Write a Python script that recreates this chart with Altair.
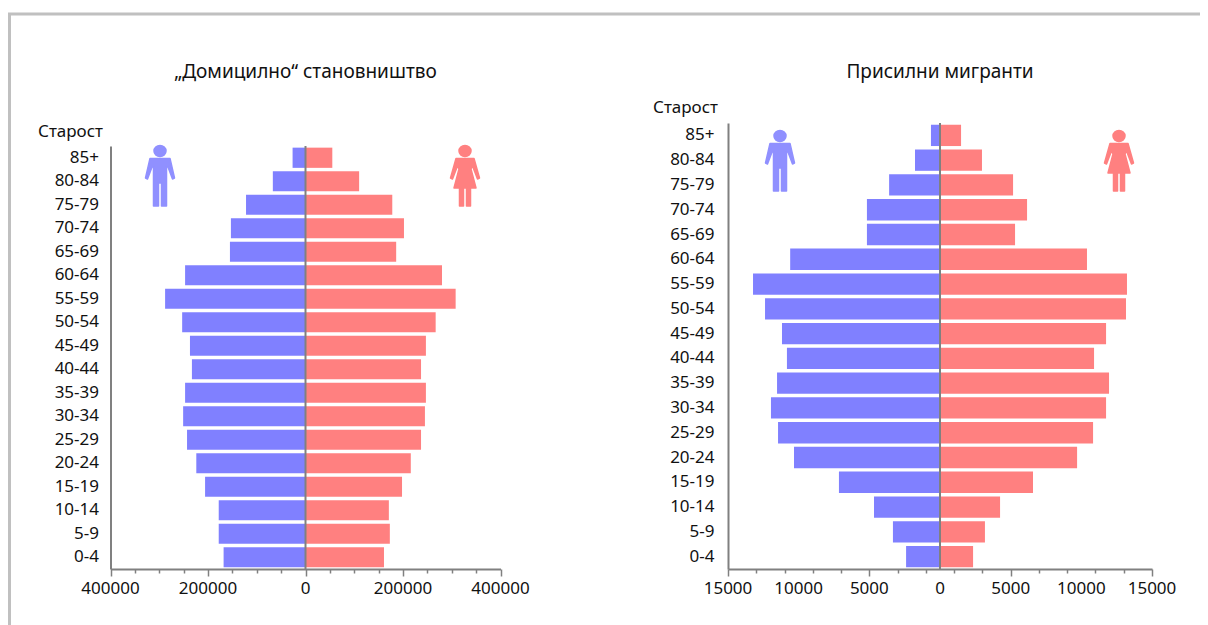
import altair as alt
import pandas as pd

ages = ["85+","80-84","75-79","70-74","65-69","60-64","55-59","50-54","45-49","40-44","35-39","30-34","25-29","20-24","15-19","10-14","5-9","0-4"]
dom_m = [26500,67000,122000,153000,155000,247000,288000,253000,237000,233000,247000,251000,243000,224000,206000,178000,178000,168000]
dom_f = [55000,110000,178000,202000,186000,280000,308000,267000,247000,237000,247000,245000,237000,216000,198000,171000,173000,161000]
mig_m = [640,1770,3600,5170,5170,10600,13230,12380,11180,10830,11530,11960,11460,10330,7150,4670,3330,2400]
mig_f = [1490,2970,5170,6160,5310,10400,13230,13160,11750,10900,11960,11750,10830,9700,6580,4250,3180,2340]

FONT = "Noto Sans"
BLUE, RED, GREY, INK = "#8080ff", "#ff8080", "#808080", "#111111"
W, H = 1192, 617
AXIS_Y = 561

MAN = ("M-6,-25a6,5.5 0 1,0 12,0a6,5.5 0 1,0 -12,0Z"
       "M-10,-17.5L10,-17.5L14.5,2L12.5,3L8,-9L6.5,-9L6.5,30L1.5,30L1.5,7L-1.5,7L-1.5,30L-6.5,30L-6.5,-9L-8,-9L-12.5,3L-14.5,2Z")
WOMAN = ("M-6,-25a6,5.5 0 1,0 12,0a6,5.5 0 1,0 -12,0Z"
         "M-9,-17.5L9,-17.5L14.5,2L12.5,3L7.5,-10L6,-7L11,12L5.5,12L5.5,30L1.5,30L1.5,12L-1.5,12L-1.5,30L-5.5,30L-5.5,12L-11,12L-6,-7L-7.5,-10L-12.5,3L-14.5,2Z")


def note(text, x, y, size, align="center"):
    return alt.Chart(pd.DataFrame({"a": [0]})).mark_text(
        text=text, font=FONT, fontSize=size, color=INK, align=align, baseline="middle"
    ).encode(x=alt.value(x), y=alt.value(y))


def icon(shape, colour, x, y):
    return alt.Chart(pd.DataFrame({"a": [0]})).mark_point(
        shape=shape, size=4, filled=True, color=colour, opacity=1, stroke=colour,
        strokeWidth=1.5, strokeJoin="round"
    ).encode(x=alt.value(x), y=alt.value(y))


def panel(title, male, female, maxv, step, label_step, xr, top, man_x, wom_x, icon_y, label_pad, title_x, title_y):
    df = pd.DataFrame({"age": ages * 2, "v": [-v for v in male] + list(female),
                       "s": ["m"] * len(ages) + ["f"] * len(ages)})
    xs = alt.Scale(domain=[-maxv, maxv], range=xr, nice=False)
    ys = alt.Scale(domain=ages, range=[top, AXIS_Y], paddingInner=0.14, paddingOuter=0.07)
    major = f"abs(datum.value) % {label_step} == 0"
    bars = alt.Chart(df).mark_bar().encode(
        x=alt.X("v:Q", scale=xs, axis=alt.Axis(
            title=None, orient="bottom", offset=AXIS_Y - H, values=list(range(-maxv, maxv + 1, step)), grid=False,
            domainColor=GREY, domainWidth=2, tickColor=GREY, tickWidth=1.5,
            tickSize={"condition": {"test": major, "value": 7}, "value": 4},
            labels=False)),
        y=alt.Y("age:N", sort=ages, scale=ys, axis=alt.Axis(
            title=None, orient="left", offset=-xr[0], ticks=False, domainColor=GREY, domainWidth=2, grid=False,
            labelFont=FONT, labelFontSize=17, labelColor=INK, labelPadding=label_pad, labelOverlap=False)),
        color=alt.Color("s:N", scale=alt.Scale(domain=["m", "f"], range=[BLUE, RED]), legend=None),
    )
    zero = alt.Chart(pd.DataFrame({"z": [0]})).mark_rule(color=GREY, strokeWidth=2).encode(
        x=alt.X("z:Q", scale=xs), y=alt.value(top), y2=alt.value(AXIS_Y))
    tick_vals = list(range(-maxv, maxv + 1, label_step))
    tick_labels = alt.Chart(pd.DataFrame({"v": tick_vals, "t": [str(abs(v)) for v in tick_vals]})).mark_text(
        font=FONT, fontSize=17, color=INK, align="center", baseline="middle"
    ).encode(x=alt.X("v:Q", scale=xs), y=alt.value(AXIS_Y + 20), text="t:N")
    return alt.layer(
        bars, zero, tick_labels,
        icon(MAN, "#9090ff", man_x, icon_y), icon(WOMAN, RED, wom_x, icon_y),
        note(title, (xr[0] + xr[1]) / 2, 64, 19),
        note("Старост", title_x, title_y, 17, "right"),
    )


left = panel("„Домицилно“ становништво", dom_m, dom_f, 400000, 50000, 200000, [102.5, 492.5], 138, 152, 457, 168, 12, 95, 124)
right = panel("Присилни мигранти", mig_m, mig_f, 15000, 1000, 5000, [720, 1144], 115, 772, 1111, 153, 14, 710, 100)

frame_v = alt.Chart(pd.DataFrame({"a": [0]})).mark_rule(color="#c0c0c0", strokeWidth=3).encode(
    x=alt.value(1.5), y=alt.value(6), y2=alt.value(H))
frame_h = alt.Chart(pd.DataFrame({"a": [0]})).mark_rule(color="#c0c0c0", strokeWidth=3).encode(
    x=alt.value(0), x2=alt.value(W), y=alt.value(6))

chart = alt.layer(left, right, frame_v, frame_h).resolve_scale(
    x="independent", y="independent", color="independent"
).resolve_axis(x="independent", y="independent").properties(
    width=W, height=H, padding=0, background="white",
    autosize=alt.AutoSizeParams(type="none"),
).configure_view(stroke=None)

chart.save("out.html", embed_options={"renderer": "svg", "actions": False})
